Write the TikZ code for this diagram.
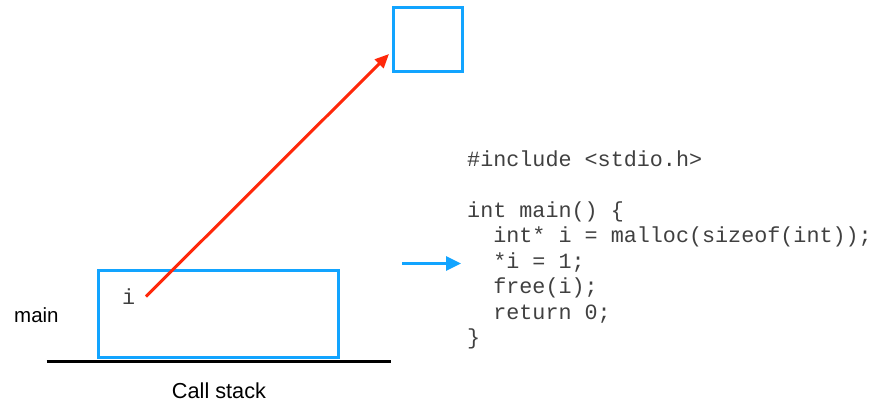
\documentclass[tikz,border=0pt]{standalone}
\usepackage{fontspec}
\setmainfont{Liberation Sans}
\newfontfamily\codefont{Liberation Mono}
\usetikzlibrary{arrows.meta}
\definecolor{boxblue}{RGB}{18,164,255}
\definecolor{ptrred}{RGB}{255,40,10}
\begin{document}
\begin{tikzpicture}[x=1pt,y=-1pt,
  cell/.style={draw=boxblue, line width=3pt, inner sep=0pt},
  label/.style={inner sep=0pt},
  code/.style={font=\codefont\fontsize{21.75}{25.5}\selectfont, text=black!75, inner sep=0pt, anchor=base west}]
  \useasboundingbox (0,0) rectangle (877,404);

  % heap cell
  \node[cell, minimum width=68.5pt, minimum height=63pt] (heap) at (427.8,39.5) {};

  % stack frame of main and the stack floor
  \node[cell, minimum width=240.5pt, minimum height=87pt] (frame) at (218.7,314) {};
  \coordinate (floorL) at (46.7,361);
  \coordinate (floorR) at (391,361);
  \draw[line width=3pt, black] (floorL) -- (floorR);

  \node[label, anchor=base west, font=\fontsize{20.5}{24}\selectfont] (mainlbl) at (14,322.5) {main};
  \node[label, anchor=base, font=\fontsize{21.7}{26}\selectfont] (stacklbl) at (219,398.5) {Call stack};

  % local variable i pointing into the heap
  \node[code] (var) at (122,304) {i};
  \coordinate (ptr) at (146,296.5);
  \coordinate (tip) at (389,54);
  \draw[ptrred, line width=3pt, -{Triangle[length=14pt,width=12pt]}] (ptr) -- (tip);

  % source listing
  \node[code] (l1) at (467,166.5) {\#include <stdio.h>};
  \node[code] (l2) at (467,217) {int main() \{};
  \node[code] (l3) at (467,242.5) {\ \ int* i = malloc(sizeof(int));};
  \node[code] (l4) at (467,268) {\ \ *i = 1;};
  \node[code] (l5) at (467,293.5) {\ \ free(i);};
  \node[code] (l6) at (467,319) {\ \ return 0;};
  \node[code] (l7) at (467,344.5) {\}};

  % current line marker
  \coordinate (pc) at (402,263.5);
  \draw[boxblue, line width=3pt, -{Triangle[length=15pt,width=14pt]}] (pc) -- ([xshift=-6pt]l4.west |- pc);
\end{tikzpicture}
\end{document}
